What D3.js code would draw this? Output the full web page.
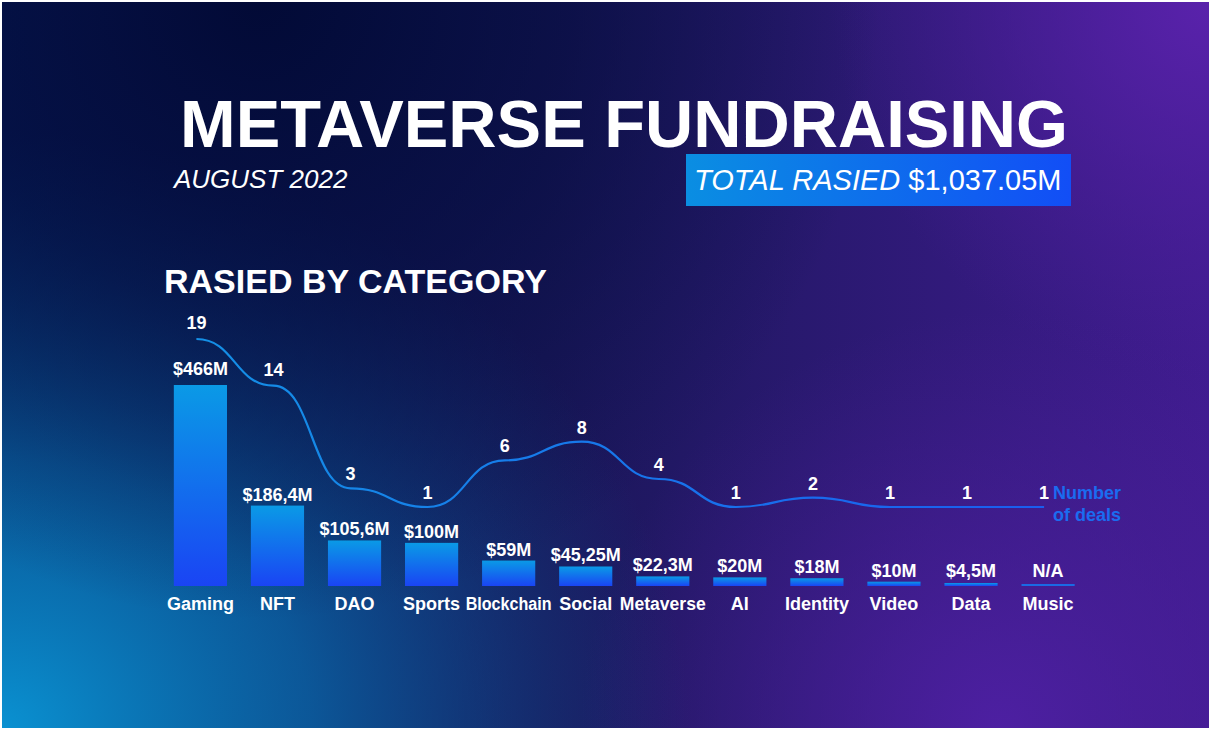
<!DOCTYPE html>
<html>
<head>
<meta charset="utf-8">
<script src="https://cdn.jsdelivr.net/npm/d3@7"></script>
<style>
  html, body { margin: 0; padding: 0; background: #fff; }
  svg { display: block; }
  text { font-family: "Liberation Sans", Arial, sans-serif; }
</style>
</head>
<body>
<div id="chart"></div>
<script>
const categories = ["Gaming", "NFT", "DAO", "Sports", "Blockchain", "Social", "Metaverse", "AI", "Identity", "Video", "Data", "Music"]
const raised = [466, 186.4, 105.6, 100, 59, 45.25, 22.3, 20, 18, 10, 4.5, null]
const raisedLabels = ["$466M", "$186,4M", "$105,6M", "$100M", "$59M", "$45,25M", "$22,3M", "$20M", "$18M", "$10M", "$4,5M", "N/A"]
const deals = [19, 14, 3, 1, 6, 8, 4, 1, 2, 1, 1, 1]

const width = 1212,
    height = 731

const svg = d3.select("#chart").append("svg")
        .attr("width", width)
        .attr("height", height)

const defs = svg.append("defs")

// background gradients
const bgBase = defs.append("linearGradient").attr("id", "bg-base")
        .attr("x1", 0).attr("y1", 0).attr("x2", 1).attr("y2", 0)
bgBase.append("stop").attr("offset", 0).attr("stop-color", "#061a55")
bgBase.append("stop").attr("offset", 0.45).attr("stop-color", "#1a175a")
bgBase.append("stop").attr("offset", 1).attr("stop-color", "#401c90")

const bgCyan = defs.append("radialGradient").attr("id", "bg-cyan")
        .attr("gradientUnits", "userSpaceOnUse")
        .attr("cx", 0).attr("cy", 731).attr("r", 600)
        .attr("gradientTransform", "translate(0,731) scale(1.15,1) translate(0,-731)")
bgCyan.append("stop").attr("offset", 0).attr("stop-color", "#0a92d2").attr("stop-opacity", 1)
bgCyan.append("stop").attr("offset", 0.45).attr("stop-color", "#0a6cae").attr("stop-opacity", 0.75)
bgCyan.append("stop").attr("offset", 1).attr("stop-color", "#0a4a8c").attr("stop-opacity", 0)

const bgDark = defs.append("radialGradient").attr("id", "bg-dark")
        .attr("gradientUnits", "userSpaceOnUse")
        .attr("cx", 260).attr("cy", 0).attr("r", 620)
bgDark.append("stop").attr("offset", 0).attr("stop-color", "#020a36").attr("stop-opacity", 1)
bgDark.append("stop").attr("offset", 0.5).attr("stop-color", "#030c3c").attr("stop-opacity", 0.6)
bgDark.append("stop").attr("offset", 1).attr("stop-color", "#050f40").attr("stop-opacity", 0)

const bgPurpleTop = defs.append("radialGradient").attr("id", "bg-purple-top")
        .attr("gradientUnits", "userSpaceOnUse")
        .attr("cx", 1212).attr("cy", 0).attr("r", 380)
bgPurpleTop.append("stop").attr("offset", 0).attr("stop-color", "#5a22ac").attr("stop-opacity", 1)
bgPurpleTop.append("stop").attr("offset", 1).attr("stop-color", "#4a1e98").attr("stop-opacity", 0)

const bgPurpleBot = defs.append("radialGradient").attr("id", "bg-purple-bot")
        .attr("gradientUnits", "userSpaceOnUse")
        .attr("cx", 1000).attr("cy", 731).attr("r", 420)
bgPurpleBot.append("stop").attr("offset", 0).attr("stop-color", "#5020a6").attr("stop-opacity", 0.9)
bgPurpleBot.append("stop").attr("offset", 1).attr("stop-color", "#4a1e98").attr("stop-opacity", 0)

const bg = svg.append("g")
const layers = ["bg-base", "bg-purple-bot", "bg-purple-top", "bg-cyan", "bg-dark"]
bg.selectAll("rect")
        .data(layers)
        .enter()
        .append("rect")
        .attr("x", 2).attr("y", 2)
        .attr("width", width - 5).attr("height", height - 5)
        .attr("fill", d => `url(#${d})`)

// bar + box gradients
const barGrad = defs.append("linearGradient").attr("id", "bar-grad")
        .attr("x1", 0).attr("y1", 0).attr("x2", 0).attr("y2", 1)
barGrad.append("stop").attr("offset", 0).attr("stop-color", "#0a9ae6")
barGrad.append("stop").attr("offset", 1).attr("stop-color", "#1a44f4")

const boxGrad = defs.append("linearGradient").attr("id", "box-grad")
        .attr("x1", 0).attr("y1", 0).attr("x2", 1).attr("y2", 0)
boxGrad.append("stop").attr("offset", 0).attr("stop-color", "#0a8ee2")
boxGrad.append("stop").attr("offset", 1).attr("stop-color", "#124ef6")

const lineGrad = defs.append("linearGradient").attr("id", "line-grad")
        .attr("gradientUnits", "userSpaceOnUse")
        .attr("x1", 190).attr("y1", 0).attr("x2", 1050).attr("y2", 0)
lineGrad.append("stop").attr("offset", 0).attr("stop-color", "#1490e6")
lineGrad.append("stop").attr("offset", 1).attr("stop-color", "#1a5cf0")

// titles
svg.append("text")
        .attr("x", 180).attr("y", 147)
        .attr("font-size", 66).attr("font-weight", "bold").attr("fill", "#fff")
        .attr("textLength", 888).attr("lengthAdjust", "spacingAndGlyphs")
        .text("METAVERSE FUNDRAISING")

svg.append("text")
        .attr("x", 174).attr("y", 188)
        .attr("font-size", 26).attr("font-style", "italic").attr("fill", "#fff")
        .text("AUGUST 2022")

svg.append("rect")
        .attr("x", 686).attr("y", 154).attr("width", 385).attr("height", 52)
        .attr("fill", "url(#box-grad)")

const total = svg.append("text")
        .attr("x", 694).attr("y", 190)
        .attr("font-size", 29).attr("fill", "#fff")
total.append("tspan").attr("font-style", "italic").text("TOTAL RASIED ")
total.append("tspan").text("$1,037.05M")

svg.append("text")
        .attr("x", 164).attr("y", 293)
        .attr("font-size", 34).attr("font-weight", "bold").attr("fill", "#fff")
        .text("RASIED BY CATEGORY")

// scales
const x = d3.scaleBand().domain(categories).range([161.5, 1087]).paddingInner(0.31).paddingOuter(0.16)
const y = d3.scaleLinear().domain([0, 466]).range([586, 385])
const yDeals = d3.scaleLinear().domain([1, 19]).range([507, 339])

const data = categories.map((c, i) => ({
    category: c,
    raised: raised[i],
    label: raisedLabels[i],
    deals: deals[i]
}))

// bars
const bars = svg.append("g")
bars.selectAll("rect")
        .data(data)
        .enter()
        .append("rect")
        .attr("x", d => x(d.category))
        .attr("width", x.bandwidth())
        .attr("y", d => d.raised == null ? y(0) - 2 : Math.min(y(d.raised), y(0) - 3))
        .attr("height", d => d.raised == null ? 2 : Math.max(y(0) - y(d.raised), 3))
        .attr("fill", d => d.raised == null ? "#1a6ae4" : "url(#bar-grad)")

bars.selectAll("text.value")
        .data(data)
        .enter()
        .append("text")
        .attr("class", "value")
        .attr("x", d => x(d.category) + x.bandwidth() / 2)
        .attr("y", d => {
            const top = d.raised == null ? y(0) : y(d.raised)
            return d.raised > 300 ? top - 10 : Math.min(top - 5, 577)
        })
        .attr("text-anchor", "middle")
        .attr("font-size", 18).attr("font-weight", "bold").attr("fill", "#fff")
        .text(d => d.label)

// category labels
const catLabels = svg.append("g")
catLabels.selectAll("text")
        .data(data)
        .enter()
        .append("text")
        .attr("x", d => x(d.category) + x.bandwidth() / 2)
        .attr("y", 610)
        .attr("text-anchor", "middle")
        .attr("font-size", 18).attr("font-weight", "bold").attr("fill", "#fff")
        .text(d => d.category)
        .each(function () {
            if (this.getComputedTextLength() > 88) {
                d3.select(this).attr("textLength", 86).attr("lengthAdjust", "spacingAndGlyphs")
            }
        })

// deals line
const dealX = d => x(d.category) + x.bandwidth() / 2 - 4
const line = d3.line()
        .x(dealX)
        .y(d => yDeals(d.deals))
        .curve(d3.curveBumpX)

svg.append("path")
        .datum(data)
        .attr("d", line)
        .attr("fill", "none")
        .attr("stroke", "url(#line-grad)")
        .attr("stroke-width", 2.2)

svg.append("g").selectAll("text")
        .data(data)
        .enter()
        .append("text")
        .attr("x", dealX)
        .attr("y", d => yDeals(d.deals) - (d.deals > 10 ? 10 : 8))
        .attr("text-anchor", "middle")
        .attr("font-size", 18).attr("font-weight", "bold").attr("fill", "#fff")
        .text(d => d.deals)

const legend = svg.append("text")
        .attr("x", 1053).attr("y", 499)
        .attr("font-size", 18).attr("font-weight", "bold").attr("fill", "#1a6cf0")
legend.append("tspan").attr("x", 1053).text("Number")
legend.append("tspan").attr("x", 1053).attr("dy", 22).text("of deals")
</script>
</body>
</html>
